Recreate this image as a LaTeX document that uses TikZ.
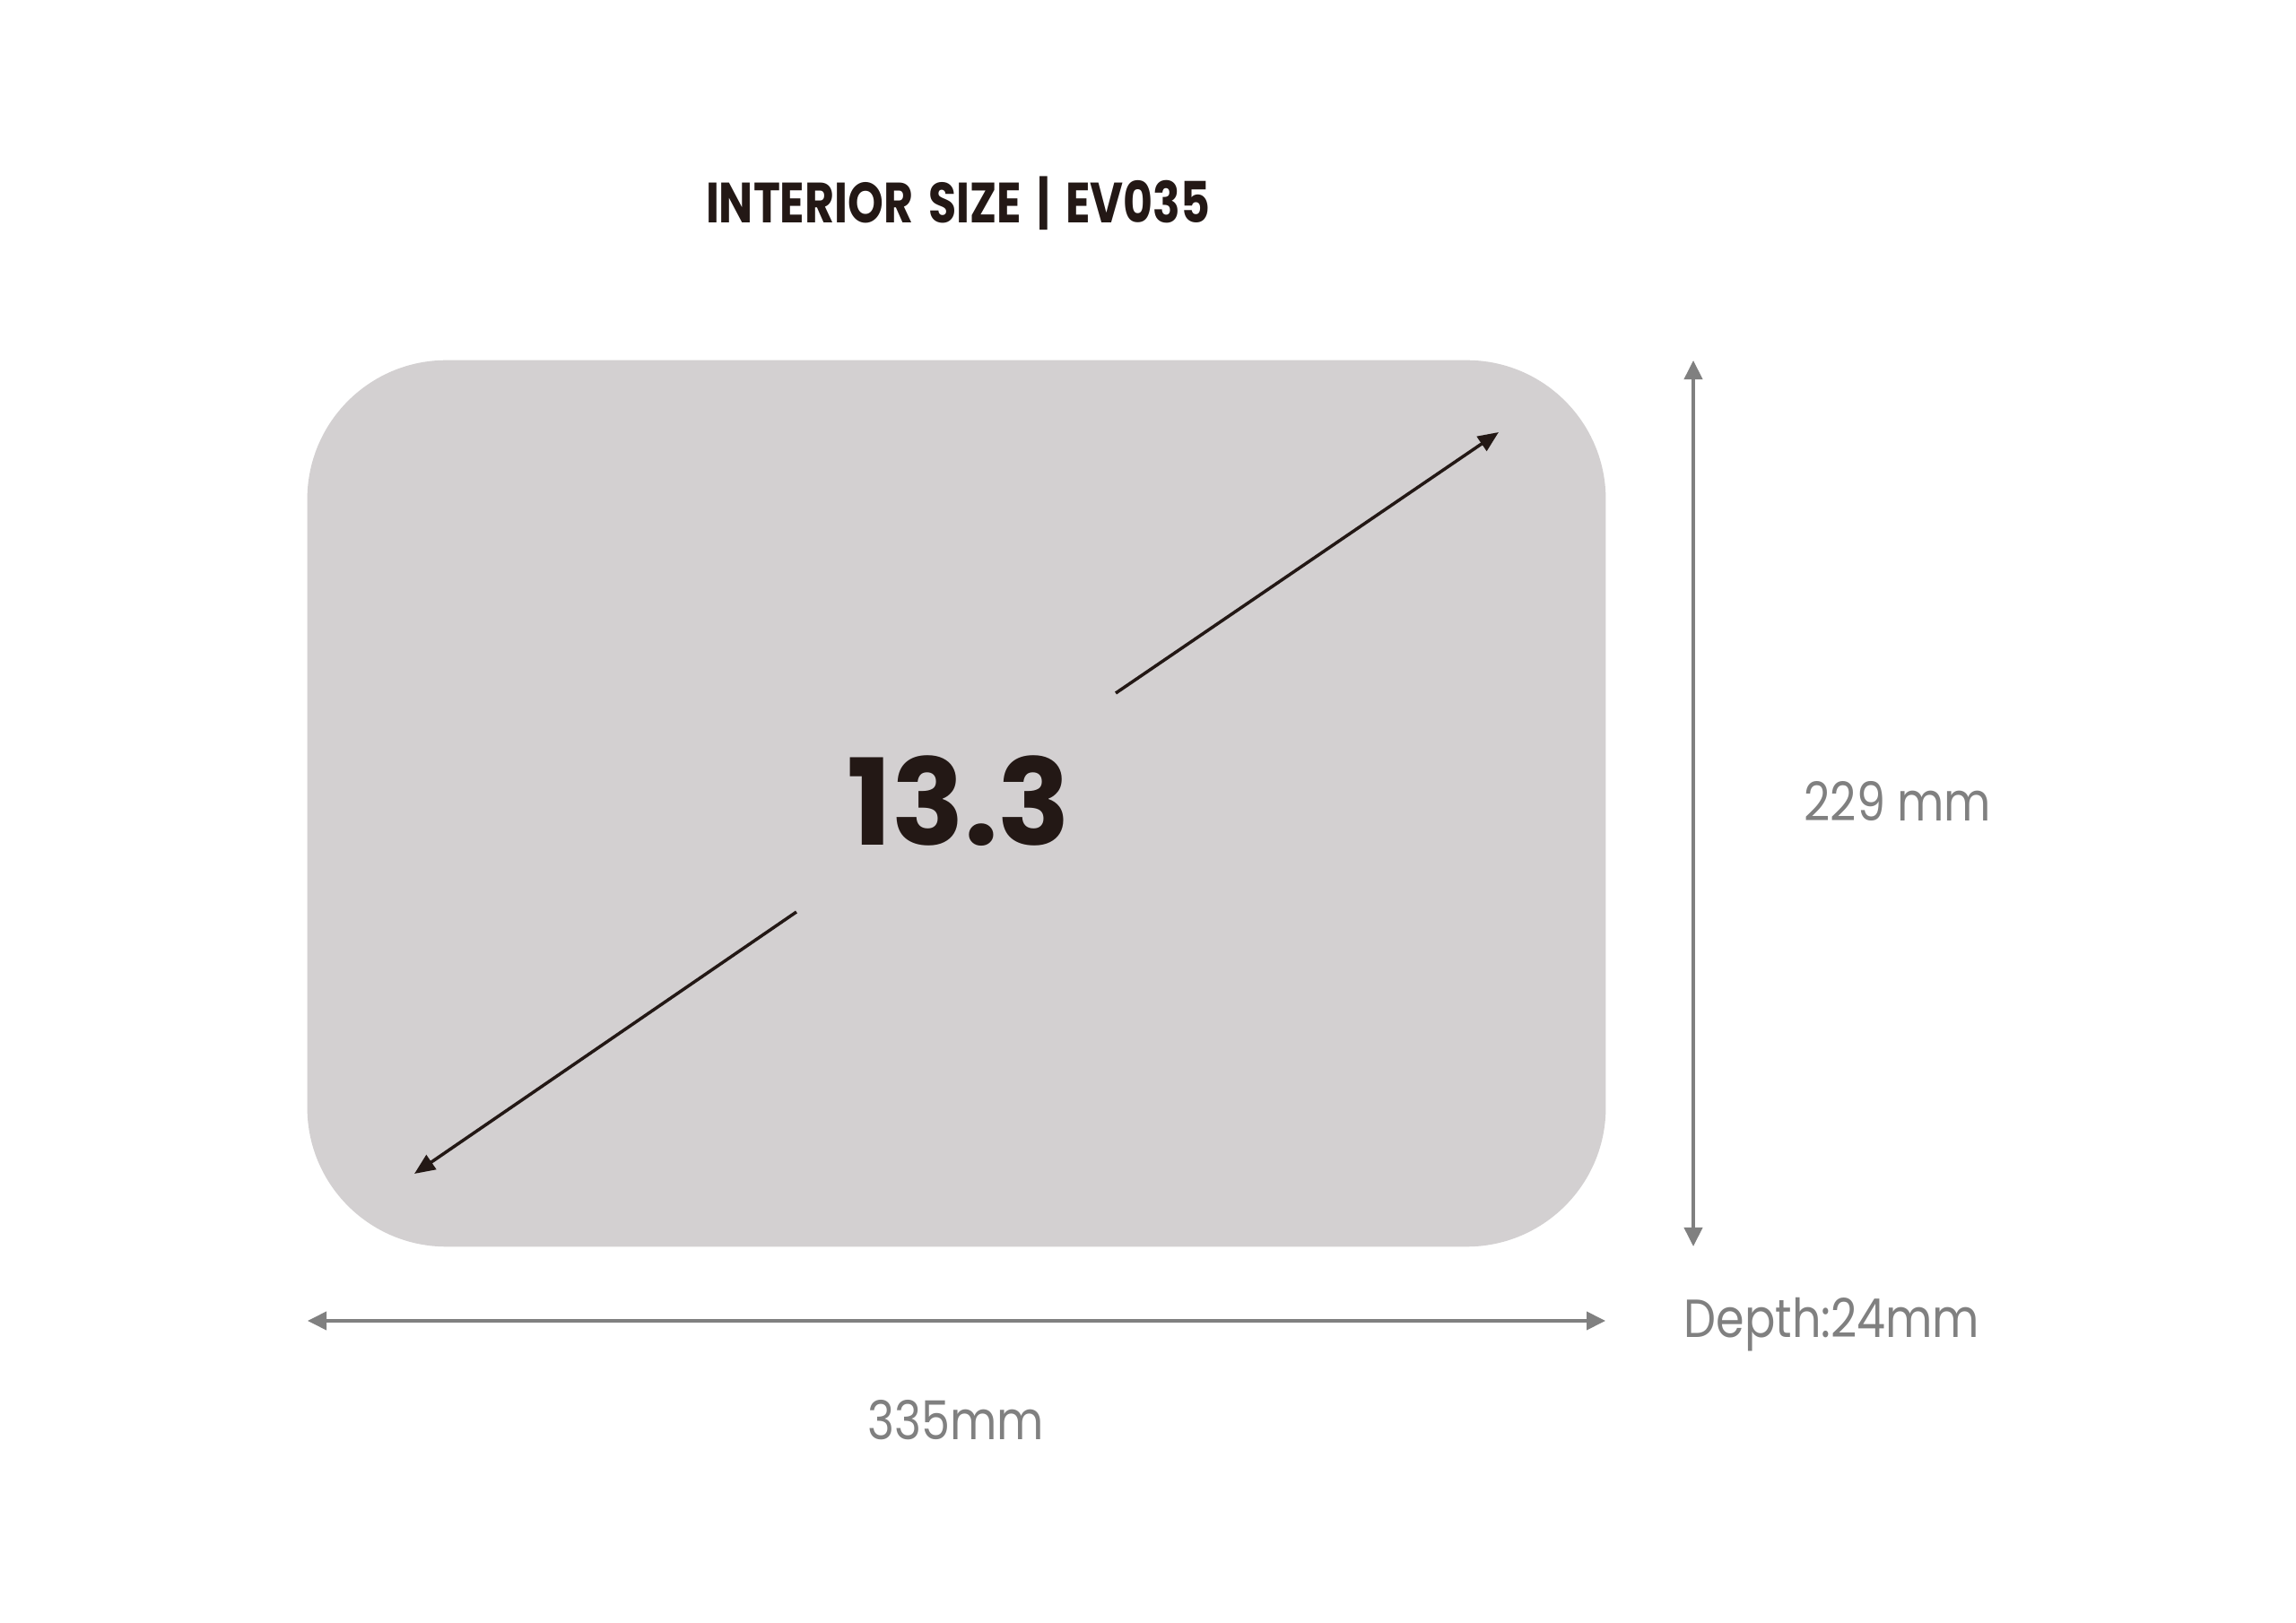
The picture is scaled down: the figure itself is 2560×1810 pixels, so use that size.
\documentclass[tikz,border=0pt]{standalone}
\usepackage{fontspec}
\setmainfont{Poppins}
\newfontfamily\titlefont{Poppins}[FakeStretch=0.8,WordSpace=1.6]
\newfontfamily\dimfont{Poppins}[FakeStretch=0.85]
\usetikzlibrary{arrows.meta}
\definecolor{trayfill}{RGB}{211,208,209}
\definecolor{dimgray}{RGB}{128,128,128}
\definecolor{inkblack}{RGB}{35,24,21}
\begin{document}
\begin{tikzpicture}[x=0.01cm,y=-0.01cm,
  dimline/.style={draw=dimgray, line width=1.1pt,
    {Triangle[length=0.21cm,width=0.2cm]}-{Triangle[length=0.21cm,width=0.2cm]}},
  diagline/.style={draw=inkblack, line width=1pt,
    -{Triangle[length=0.23cm,width=0.19cm]}},
  dimlabel/.style={text=dimgray, inner sep=0pt, font=\dimfont\fontsize{17}{20}\selectfont}]
  \useasboundingbox (0,0) rectangle (2560,1810);
  \fill[white] (0,0) rectangle (2560,1810);
  % tray outline
  \node[fill=trayfill, rounded corners=1.55cm, minimum width=14.47cm,
    minimum height=9.88cm, inner sep=0pt] (tray) at (1066.5,896) {};
  \node[anchor=base, text=inkblack, inner sep=0pt,
    font=\titlefont\bfseries\fontsize{18}{20}\selectfont] (title) at (1068,249) {INTERIOR SIZE | EV035};
  \node[anchor=base, text=inkblack, inner sep=0pt,
    font=\bfseries\fontsize{38}{40}\selectfont] (diag) at (1069,943) {13.3};
  % diagonal
  \coordinate (ne0) at (1244,773);
  \coordinate (ne1) at (1671,482);
  \coordinate (sw0) at (888,1017);
  \coordinate (sw1) at (462,1309);
  \draw[diagline] (ne0) -- (ne1);
  \draw[diagline] (sw0) -- (sw1);
  % dimensions
  \coordinate (vtop) at (1888,402);
  \coordinate (vbot) at (1888,1390);
  \coordinate (hleft) at (343,1473);
  \coordinate (hright) at (1790,1473);
  \draw[dimline] (vtop) -- (vbot);
  \draw[dimline] (hleft) -- (hright);
  \node[dimlabel, anchor=base] (height) at (2116,916) {229 mm};
  \node[dimlabel, anchor=base west] (depth) at (1877,1491) {Depth:24mm};
  \node[dimlabel, anchor=base] (width) at (1066,1605) {335mm};
\end{tikzpicture}
\end{document}
